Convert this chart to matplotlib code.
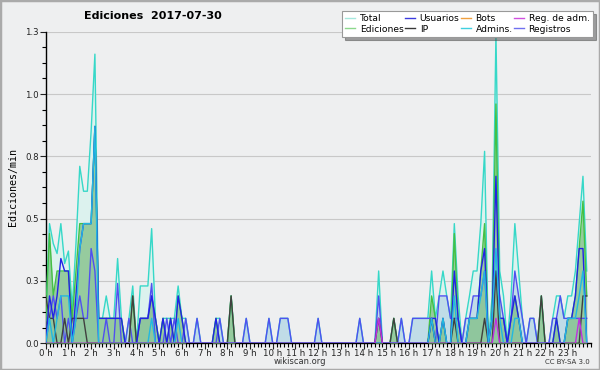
import matplotlib
matplotlib.use("Agg")
import matplotlib.pyplot as plt
import numpy as np
from matplotlib.lines import Line2D
from matplotlib.patches import Rectangle

# 10-minute bins over the day (hours)
hours = [i / 6 for i in range(144)]

total = [.09,.48,.40,.36,.48,.32, .37,.14,.40,.71,.61,.61,
         .85,1.16,.10,.10,.19,.10, .10,.34,.10,.00,.10,.23,
         .00,.23,.23,.23,.46,.10, .00,.10,.10,.10,.10,.23,
         .10,.10,.00,.00,.10,.00, .00,.00,.00,.10,.10,.00,
         .00,.19,.00,.00,.00,.10, .00,.00,.00,.00,.00,.10,
         .00,.00,.10,.10,.10,.00, .00,.00,.00,.00,.00,.00,
         .10,.00,.00,.00,.00,.00, .00,.00,.00,.00,.00,.10,
         .00,.00,.00,.00,.29,.00, .00,.00,.10,.00,.10,.00,
         .00,.10,.10,.10,.10,.10, .29,.10,.19,.29,.19,.10,
         .48,.19,.00,.10,.19,.29, .29,.48,.77,.00,.19,1.24,
         .29,.19,.00,.19,.48,.29, .10,.00,.10,.10,.00,.19,
         .00,.00,.10,.19,.19,.10, .19,.19,.29,.48,.67,.29]

edits = [.10,.44,.19,.29,.29,.29, .29,.10,.29,.48,.48,.48,
         .48,.87,.10,.10,.10,.10, .10,.10,.10,.00,.00,.19,
         .00,.10,.10,.10,.19,.10, .00,.10,.00,.10,.00,.19,
         .10,.00,.00,.00,.00,.00, .00,.00,.00,.10,.00,.00,
         .00,.19,.00,.00,.00,.00, .00,.00,.00,.00,.00,.00,
         .00,.00,.00,.00,.00,.00, .00,.00,.00,.00,.00,.00,
         .00,.00,.00,.00,.00,.00, .00,.00,.00,.00,.00,.00,
         .00,.00,.00,.00,.10,.00, .00,.00,.10,.00,.00,.00,
         .00,.00,.00,.00,.00,.00, .19,.10,.00,.10,.00,.00,
         .44,.10,.00,.00,.10,.10, .10,.29,.48,.00,.10,.96,
         .10,.10,.00,.10,.19,.10, .00,.00,.00,.00,.00,.19,
         .00,.00,.00,.10,.00,.00, .10,.10,.19,.38,.57,.19]

users = [.00,.19,.10,.19,.34,.29, .29,.00,.19,.38,.48,.48,
         .48,.87,.10,.10,.10,.10, .10,.10,.10,.00,.00,.00,
         .00,.10,.10,.10,.19,.10, .00,.10,.00,.10,.00,.19,
         .10,.00,.00,.00,.00,.00, .00,.00,.00,.10,.00,.00,
         .00,.00,.00,.00,.00,.00, .00,.00,.00,.00,.00,.00,
         .00,.00,.00,.00,.00,.00, .00,.00,.00,.00,.00,.00,
         .00,.00,.00,.00,.00,.00, .00,.00,.00,.00,.00,.00,
         .00,.00,.00,.00,.00,.00, .00,.00,.00,.00,.00,.00,
         .00,.00,.00,.00,.00,.00, .10,.10,.00,.10,.00,.00,
         .29,.10,.00,.00,.10,.10, .10,.29,.38,.00,.10,.67,
         .10,.10,.00,.10,.19,.10, .00,.00,.00,.00,.00,.00,
         .00,.00,.00,.10,.00,.00, .10,.10,.19,.38,.38,.00]

ip = [.19,.10,.10,.00,.00,.10, .00,.10,.10,.10,.10,.00,
      .00,.00,.00,.00,.00,.00, .00,.00,.00,.00,.00,.19,
      .00,.00,.00,.00,.00,.00, .00,.00,.00,.00,.00,.00,
      .00,.00,.00,.00,.00,.00, .00,.00,.00,.00,.00,.00,
      .00,.19,.00,.00,.00,.00, .00,.00,.00,.00,.00,.00,
      .00,.00,.00,.00,.00,.00, .00,.00,.00,.00,.00,.00,
      .00,.00,.00,.00,.00,.00, .00,.00,.00,.00,.00,.00,
      .00,.00,.00,.00,.10,.00, .00,.00,.10,.00,.00,.00,
      .00,.00,.00,.00,.00,.00, .10,.00,.00,.00,.00,.00,
      .10,.00,.00,.00,.00,.00, .00,.00,.10,.00,.00,.29,
      .00,.00,.00,.00,.00,.00, .00,.00,.00,.00,.00,.19,
      .00,.00,.00,.00,.00,.00, .00,.00,.00,.00,.19,.19]

admins = [.00,.10,.00,.10,.19,.19, .19,.00,.10,.38,.48,.48,
          .48,.87,.00,.00,.00,.00, .00,.00,.00,.00,.00,.00,
          .00,.00,.00,.00,.10,.00, .00,.00,.00,.00,.00,.10,
          .00,.00,.00,.00,.00,.00, .00,.00,.00,.00,.00,.00,
          .00,.00,.00,.00,.00,.00, .00,.00,.00,.00,.00,.00,
          .00,.00,.00,.00,.00,.00, .00,.00,.00,.00,.00,.00,
          .00,.00,.00,.00,.00,.00, .00,.00,.00,.00,.00,.00,
          .00,.00,.00,.00,.00,.00, .00,.00,.00,.00,.00,.00,
          .00,.00,.00,.00,.00,.00, .10,.00,.00,.10,.00,.00,
          .19,.00,.00,.00,.10,.10, .10,.19,.29,.00,.10,.38,
          .10,.00,.00,.00,.10,.10, .00,.00,.00,.00,.00,.00,
          .00,.00,.00,.00,.00,.00, .10,.10,.10,.19,.29,.00]

logs = [.00,.10,.19,.10,.19,.00, .10,.00,.10,.19,.10,.10,
        .38,.29,.00,.00,.10,.00, .00,.24,.00,.00,.10,.00,
        .00,.10,.10,.10,.24,.00, .00,.00,.10,.00,.10,.00,
        .00,.10,.00,.00,.10,.00, .00,.00,.00,.00,.10,.00,
        .00,.00,.00,.00,.00,.10, .00,.00,.00,.00,.00,.10,
        .00,.00,.10,.10,.10,.00, .00,.00,.00,.00,.00,.00,
        .10,.00,.00,.00,.00,.00, .00,.00,.00,.00,.00,.10,
        .00,.00,.00,.00,.19,.00, .00,.00,.00,.00,.10,.00,
        .00,.10,.10,.10,.10,.10, .10,.00,.19,.19,.19,.10,
        .10,.10,.00,.10,.10,.19, .19,.19,.29,.00,.10,.29,
        .19,.10,.00,.10,.29,.19, .10,.00,.10,.10,.00,.00,
        .00,.00,.10,.10,.19,.10, .10,.10,.10,.10,.10,.10]

adm_logs = [0.0] * 88 + [.10] + [0.0] * 30 + [.10] + [0.0] * 21 + [.10, 0.0, 0.0]

legend_labels = ["Total", "Ediciones", "Usuarios", "IP",
                 "Bots", "Admins.", "Reg. de adm.", "Registros"]
legend_colors = ["#a6e8de", "#8cd88c", "#3c3ce0", "#383838",
                 "#f0a040", "#40d0e0", "#d050e0", "#7070f0"]

hour_labels = [f"{h} h" for h in range(24)]
y_ticks = [0, 0.25, 0.5, 0.75, 1.0, 1.25]
y_labels = ["0.0", "0.3", "0.5", "0.8", "1.0", "1.3"]

BG = "#eeeff0"
fig = plt.figure(figsize=(6.0, 3.7), dpi=100, facecolor=BG)
ax = fig.add_axes([0.0762, 0.0722, 0.908, 0.8421])
ax.set_facecolor(BG)

x = np.array(hours)
ax.fill_between(x, total, color="#dcf2ee", lw=0, zorder=1)
ax.plot(x, total, color="#36d8c8", lw=1.0, zorder=5)
ax.fill_between(x, logs, color="#bcd9e6", alpha=0.85, lw=0, zorder=2)
ax.fill_between(x, edits, color="#7fbf84", alpha=0.75, lw=0, zorder=3)
ax.plot(x, edits, color="#44c044", lw=1.0, zorder=6)
ax.plot(x, logs, color="#5050f0", lw=1.0, zorder=7)
ax.plot(x, ip, color="#404040", lw=1.0, zorder=8)
ax.plot(x, users, color="#2222e6", lw=1.0, zorder=9)
ax.plot(x, admins, color="#22b8e0", lw=1.0, zorder=10)
ax.plot(x, adm_logs, color="#c030e0", lw=1.0, zorder=11)

ax.set_xlim(0, 24)
ax.set_ylim(0, 1.25)
ax.set_yticks(y_ticks)
ax.set_yticklabels(y_labels)
ax.set_yticks(np.arange(0, 1.25, 0.0625), minor=True)
ax.set_xticks(range(24))
ax.set_xticklabels(hour_labels)
ax.set_xticks(np.arange(0, 24.01, 1 / 6), minor=True)
ax.grid(axis="y", color="#c8c8c8", lw=0.8, zorder=0)
ax.set_axisbelow(True)
for s in ("top", "right"):
    ax.spines[s].set_visible(False)
ax.spines["left"].set_linewidth(1.0)
ax.spines["bottom"].set_linewidth(1.0)
ax.tick_params(axis="both", which="major", length=4, width=0.8,
               labelsize=6.2, colors="#222222", pad=1)
ax.tick_params(axis="both", which="minor", length=3, width=0.8)
ax.tick_params(axis="x", which="major", pad=0)
ax.set_ylabel("Ediciones/min", fontsize=7.2, family="DejaVu Sans Mono",
              labelpad=5)

fig.text(0.255, 0.956, "Ediciones  2017-07-30", fontsize=8,
         fontweight="bold", ha="center", va="center")
fig.text(0.5, 0.024, "wikiscan.org", fontsize=6, ha="center",
         va="center", color="#333333")
fig.text(0.983, 0.022, "CC BY-SA 3.0", fontsize=5, ha="right",
         va="center", color="#333333")

handles = [Line2D([], [], color=c, lw=1.0) for c in legend_colors]
leg = fig.legend(handles, legend_labels, ncol=4, loc="upper right",
                 bbox_to_anchor=(0.988, 0.97), fontsize=6.6,
                 frameon=True, fancybox=False, shadow=True,
                 framealpha=1, edgecolor="#999999", borderpad=0.35,
                 labelspacing=0.15, handlelength=1.1, handletextpad=0.5,
                 columnspacing=0.15, borderaxespad=0)
leg.get_frame().set_linewidth(0.8)

fig.patches.append(Rectangle((0, 0), 1, 1, transform=fig.transFigure,
                             fill=False, edgecolor="#aaaaaa", lw=2.5))

fig.savefig("out.png", dpi=100, facecolor=BG)
